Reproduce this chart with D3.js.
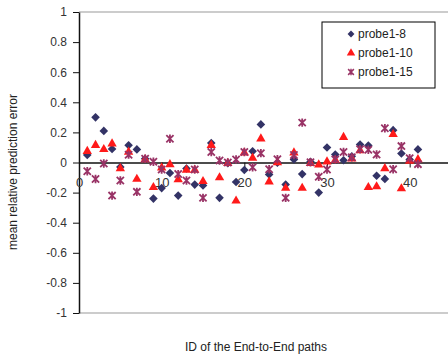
<!DOCTYPE html>
<html>
<head>
<meta charset="utf-8">
<script src="https://d3js.org/d3.v7.min.js"></script>
<style>
body { margin: 0; background: #fff; }
text { font-family: "Liberation Sans", Arial, sans-serif; }
</style>
</head>
<body>
<div id="mainer"></div>
<script>
// path ids on the x axis
const pathIds = [1,2,3,4,5,6,7,8,9,10,11,12,13,14,15,16,17,18,19,20,21,
  22,23,24,25,26,27,28,29,30,31,32,33,34,35,36,37,38,39,40,41];

const probe8 = [0.05,0.30,0.21,0.09,-0.03,0.115,0.087,0.025,-0.24,-0.17,-0.07,
  -0.22,-0.04,-0.147,-0.153,0.13,-0.235,-0.005,-0.13,-0.05,0.075,0.253,-0.08,
  -0.002,-0.147,0.02,-0.077,0.005,-0.2,0.1,0.053,0.015,0.042,0.12,0.113,-0.088,
  -0.109,0.215,0.06,0.02,0.087];

const probe10 = [0.075,0.115,0.087,0.125,-0.04,0.07,-0.11,0.02,-0.165,-0.035,-0.013,
  -0.113,-0.05,-0.05,-0.125,0.115,-0.1,-0.005,-0.255,0.065,0.03,0.158,-0.128,
  0.0,-0.17,0.065,-0.17,-0.005,-0.015,0.005,0.015,0.168,0.025,0.08,-0.165,-0.16,
  -0.04,0.187,-0.173,0.009,0.02];

const probe15 = [-0.058,-0.11,-0.007,-0.22,-0.12,0.052,-0.195,0.025,0.005,-0.047,0.158,
  -0.077,-0.12,-0.047,-0.235,0.07,0.013,0.0,0.02,0.07,-0.032,0.062,-0.045,
  0.022,-0.235,0.05,0.265,0.002,-0.095,-0.047,0.02,0.07,0.035,0.088,0.085,0.053,
  0.228,-0.045,0.109,0.028,-0.011];

const seriesNames = ["probe1-8", "probe1-10", "probe1-15"];
const yTicks = [1, 0.8, 0.6, 0.4, 0.2, 0, -0.2, -0.4, -0.6, -0.8, -1];
const xTicks = [0, 10, 20, 30, 40];

let width = 448, height = 358;
let svg = d3.select("#mainer").append("svg")
  .attr("width", width)
  .attr("height", height);

let xScale = d3.scaleLinear().domain([0, 45]).range([79, 451]);
let yScale = d3.scaleLinear().domain([-1, 1]).range([313, 12]);

// plot area top / bottom border
svg.selectAll("line.border")
  .data([1, -1])
  .enter().append("line")
  .attr("class", "border")
  .attr("x1", xScale(0)).attr("x2", width)
  .attr("y1", d => yScale(d)).attr("y2", d => yScale(d))
  .attr("stroke", "#9a9a9a")
  .attr("stroke-width", 1.2);

// y axis
let yAxis = svg.append("g")
  .attr("transform", `translate(${xScale(0)},0)`)
  .call(d3.axisLeft(yScale).tickValues(yTicks).tickSize(6).tickPadding(6)
    .tickSizeOuter(0).tickFormat(d => String(d)));
yAxis.attr("font-family", null).attr("font-size", 12).style("color", "#111");
yAxis.selectAll("text").attr("fill", "#333");
yAxis.select(".domain").attr("stroke-width", 1.5);

// x axis crossing at zero
let xAxis = svg.append("g")
  .attr("transform", `translate(0,${yScale(0)})`)
  .call(d3.axisBottom(xScale).tickValues(xTicks).tickSize(5).tickPadding(10)
    .tickSizeOuter(0));
xAxis.attr("font-family", null).attr("font-size", 13).style("color", "#111");
xAxis.selectAll("text").attr("fill", "#333");
xAxis.select(".domain").attr("stroke-width", 1.5);

// markers
const diamondPath = "M0,-4.3L4.3,0L0,4.3L-4.3,0Z";
const trianglePath = d3.symbol(d3.symbolTriangle, 38)();
const starPath = "M-3.6,-3.6L3.6,3.6M-3.6,3.6L3.6,-3.6M0,-4.2L0,4.2";

function drawSeries(vals, path, fill, stroke, sw) {
  svg.append("g").selectAll("path")
    .data(vals)
    .enter().append("path")
    .attr("d", path)
    .attr("transform", (d, i) => `translate(${xScale(pathIds[i])},${yScale(d)})`)
    .attr("fill", fill)
    .attr("stroke", stroke)
    .attr("stroke-width", sw);
}
drawSeries(probe8, diamondPath, "#333366", "none", 0);
drawSeries(probe10, trianglePath, "#ff1a1a", "none", 0);
drawSeries(probe15, starPath, "none", "#993366", 1.8);

// legend
let legend = svg.append("g");
legend.append("rect")
  .attr("x", 322).attr("y", 22).attr("width", 113).attr("height", 66)
  .attr("fill", "#fff").attr("stroke", "#000").attr("stroke-width", 1);
const legendMarks = [
  {path: diamondPath, fill: "#333366", stroke: "none", sw: 0, scale: 0.8},
  {path: trianglePath, fill: "#ff1a1a", stroke: "none", sw: 0, scale: 0.9},
  {path: starPath, fill: "none", stroke: "#993366", sw: 1.8, scale: 0.8}
];
seriesNames.forEach((name, i) => {
  let cy = 34 + i * 19;
  let m = legendMarks[i];
  legend.append("path")
    .attr("d", m.path)
    .attr("transform", `translate(351,${cy}) scale(${m.scale})`)
    .attr("fill", m.fill).attr("stroke", m.stroke).attr("stroke-width", m.sw);
  legend.append("text")
    .attr("x", 358).attr("y", cy).attr("dy", "0.35em")
    .attr("font-size", 12).attr("fill", "#222")
    .text(name);
});

// axis titles
svg.append("text")
  .attr("x", 256).attr("y", 347).attr("dy", "0.35em")
  .attr("text-anchor", "middle").attr("font-size", 12).attr("fill", "#222")
  .text("ID of the End-to-End paths");

svg.append("text")
  .attr("transform", "translate(13,172) rotate(-90)")
  .attr("dy", "0.35em")
  .attr("text-anchor", "middle").attr("font-size", 12).attr("fill", "#222")
  .text("mean relative prediction error");
</script>
</body>
</html>
